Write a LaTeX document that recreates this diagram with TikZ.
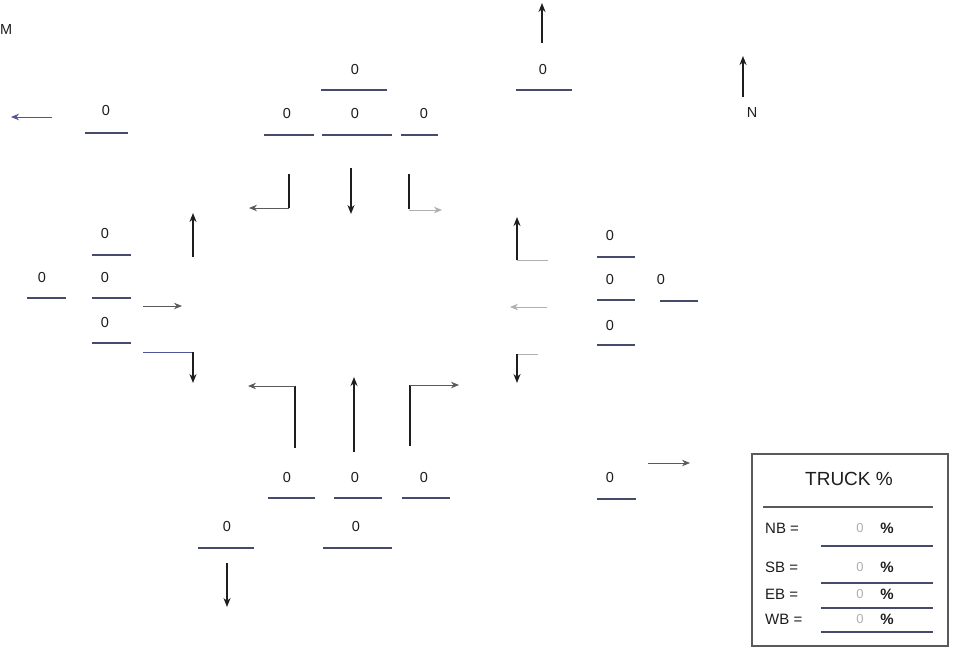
\documentclass[tikz,border=0pt]{standalone}
\usepackage{fontspec}
\setmainfont{Liberation Sans}
\usetikzlibrary{arrows.meta}
\definecolor{ulc}{RGB}{70,75,110}
\definecolor{inkc}{RGB}{30,30,30}
\definecolor{grayc}{RGB}{90,90,90}
\definecolor{bluec}{RGB}{80,85,150}
\definecolor{faintc}{RGB}{175,175,175}
\tikzset{
  num/.style={font=\fontsize{14.5}{15}\selectfont, text=inkc, inner sep=0pt},
  uline/.style={draw=ulc, line width=1.1pt},
  varr/.style={draw=inkc, line width=1.5pt, -{Stealth[length=9pt,width=7pt]}},
  harr/.style={draw=grayc, line width=1pt, -{Stealth[length=8pt,width=6.5pt]}},
  leg/.style={draw=grayc, line width=1pt},
  tlab/.style={font=\fontsize{15}{16}\selectfont, text=inkc, inner sep=0pt, anchor=west},
  tval/.style={font=\fontsize{13}{14}\selectfont, text=faintc, inner sep=0pt},
  tpct/.style={font=\bfseries\fontsize{15}{16}\selectfont, text=inkc, inner sep=0pt},
}
\begin{document}
\begin{tikzpicture}[x=1pt,y=-1pt]
\useasboundingbox (0,0) rectangle (956,649);
\fill[white] (0,0) rectangle (956,649);

% M label
\node[num, anchor=west] (mlab) at (0,30) {M};

% North arrow
\coordinate (nS) at (743,97);
\coordinate (nE) at (743,56);
\draw[varr] (nS) -- (nE);
\node[num] (nlab) at (752,113) {N};

% ---------- top-left ----------
\coordinate (tlA) at (52,117);
\coordinate (tlB) at (11,117);
\draw[harr, draw=bluec] (tlA) -- (tlB);
\node[num] (n1) at (106,111) {0};
\draw[uline] (85,133) -- (128,133);

% ---------- top (southbound) ----------
\node[num] (n2) at (355,70) {0};
\draw[uline] (321,90) -- (387,90);
\node[num] (n3) at (287,114) {0};
\draw[uline] (264,135) -- (314,135);
\node[num] (n4) at (355,114) {0};
\draw[uline] (322,135) -- (392,135);
\node[num] (n5) at (424,114) {0};
\draw[uline] (401,135) -- (438,135);

\draw[draw=inkc, line width=1.5pt] (289,174) -- (289,208);
\draw[harr] (289,208) -- (249,208);
\draw[varr] (351,168) -- (351,214);
\draw[draw=inkc, line width=1.5pt] (409,174) -- (409,209);
\draw[harr, draw=faintc] (409,210) -- (442,210);

% top right
\coordinate (trA) at (542,43);
\coordinate (trB) at (542,3);
\draw[varr] (trA) -- (trB);
\node[num] (n6) at (543,70) {0};
\draw[uline] (516,90) -- (572,90);

% ---------- left (eastbound) ----------
\node[num] (n7) at (105,234) {0};
\draw[uline] (92,255) -- (131,255);
\node[num] (n8) at (42,277) {0};
\draw[uline] (27,298) -- (66,298);
\node[num] (n9) at (105,277) {0};
\draw[uline] (92,298) -- (131,298);
\node[num] (n10) at (105,322) {0};
\draw[uline] (92,343) -- (131,343);

\draw[varr] (193,257) -- (193,213);
\draw[harr] (143,306) -- (182,306);
\draw[leg, draw=bluec] (143,352) -- (193,352);
\draw[varr] (193,352) -- (193,383);

% ---------- right (westbound) ----------
\node[num] (n11) at (610,236) {0};
\draw[uline] (597,257) -- (635,257);
\node[num] (n12) at (610,280) {0};
\draw[uline] (597,300) -- (635,300);
\node[num] (n13) at (661,280) {0};
\draw[uline] (660,301) -- (698,301);
\node[num] (n14) at (610,325) {0};
\draw[uline] (597,345) -- (635,345);

\draw[leg, draw=faintc] (548,260) -- (517,260);
\draw[varr] (517,260) -- (517,217);
\draw[harr, draw=faintc] (547,307) -- (510,307);
\draw[leg, draw=faintc] (538,354) -- (517,354);
\draw[varr] (517,354) -- (517,383);

% ---------- bottom (northbound) ----------
\draw[draw=inkc, line width=1.5pt] (295,448) -- (295,386);
\draw[harr] (295,386) -- (248,386);
\draw[varr] (354,452) -- (354,377);
\draw[draw=inkc, line width=1.5pt] (410,446) -- (410,385);
\draw[harr] (410,385) -- (459,385);

\node[num] (n15) at (287,477) {0};
\draw[uline] (268,498) -- (315,498);
\node[num] (n16) at (355,477) {0};
\draw[uline] (334,498) -- (382,498);
\node[num] (n17) at (424,477) {0};
\draw[uline] (402,498) -- (450,498);

\node[num] (n18) at (227,526) {0};
\draw[uline] (198,548) -- (254,548);
\draw[varr] (227,563) -- (227,607);
\node[num] (n19) at (356,526) {0};
\draw[uline] (323,548) -- (392,548);

\node[num] (n20) at (610,477) {0};
\draw[uline] (597,499) -- (636,499);
\draw[harr] (648,463) -- (690,463);

% ---------- truck box ----------
\draw[draw=grayc, line width=1.1pt] (752,454) rectangle (948,646);
\node[font=\fontsize{19}{20}\selectfont, text=inkc, inner sep=0pt] (ttl) at (849,479) {TRUCK \%};
\draw[uline, draw=grayc] (763,507) -- (933,507);

\node[tlab] (nb) at (765,528) {NB =};
\node[tval] (nbv) at (860,528) {0};
\node[tpct] (nbp) at (887,528) {\%};
\draw[uline] (821,546) -- (933,546);

\node[tlab] (sb) at (765,567) {SB =};
\node[tval] (sbv) at (860,567) {0};
\node[tpct] (sbp) at (887,567) {\%};
\draw[uline] (821,583) -- (933,583);

\node[tlab] (eb) at (765,594) {EB =};
\node[tval] (ebv) at (860,594) {0};
\node[tpct] (ebp) at (887,594) {\%};
\draw[uline] (821,608) -- (933,608);

\node[tlab] (wb) at (765,619) {WB =};
\node[tval] (wbv) at (860,619) {0};
\node[tpct] (wbp) at (887,619) {\%};
\draw[uline] (821,632) -- (933,632);
\end{tikzpicture}
\end{document}
